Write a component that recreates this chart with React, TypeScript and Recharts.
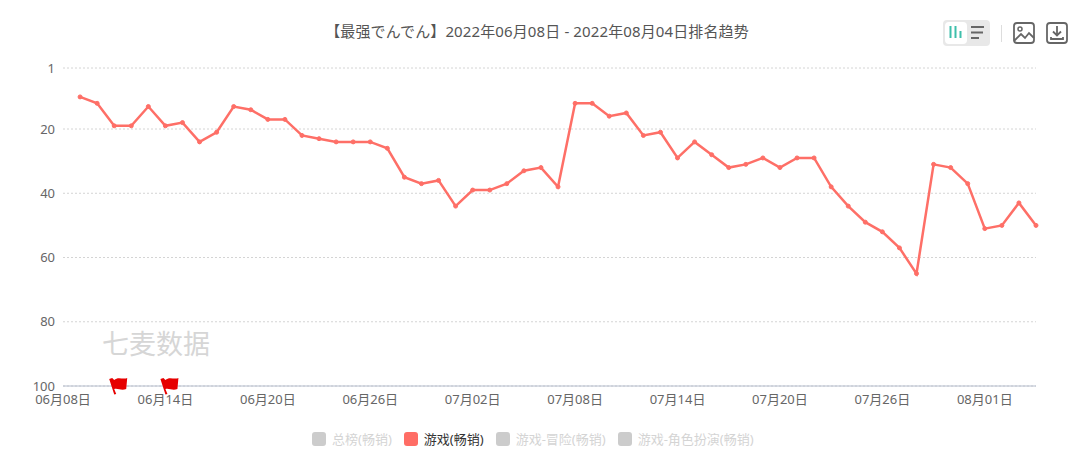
import React from "react";
import { CartesianGrid, Line, LineChart, ReferenceDot, XAxis, YAxis } from "recharts";

const FONT = '"Noto Sans", "Noto Sans CJK SC", sans-serif';
const LINE_COLOR = "#fe6f67";

const dates = [
  "06月08日", "06月09日", "06月10日", "06月11日", "06月12日", "06月13日", "06月14日", "06月15日",
  "06月16日", "06月17日", "06月18日", "06月19日", "06月20日", "06月21日", "06月22日", "06月23日",
  "06月24日", "06月25日", "06月26日", "06月27日", "06月28日", "06月29日", "06月30日", "07月01日",
  "07月02日", "07月03日", "07月04日", "07月05日", "07月06日", "07月07日", "07月08日", "07月09日",
  "07月10日", "07月11日", "07月12日", "07月13日", "07月14日", "07月15日", "07月16日", "07月17日",
  "07月18日", "07月19日", "07月20日", "07月21日", "07月22日", "07月23日", "07月24日", "07月25日",
  "07月26日", "07月27日", "07月28日", "07月29日", "07月30日", "07月31日", "08月01日", "08月02日",
  "08月03日", "08月04日",
];

const ranks = [
  null, 10, 12, 19, 19, 13, 19, 18, 24, 21, 13, 14, 17, 17, 22, 23, 24, 24, 24, 26, 35, 37, 36, 44,
  39, 39, 37, 33, 32, 38, 12, 12, 16, 15, 22, 21, 29, 24, 28, 32, 31, 29, 32, 29, 29, 38, 44, 49,
  52, 57, 65, 31, 32, 37, 51, 50, 43, 50,
];

const rankTicks = [1, 20, 40, 60, 80, 100];
const flagDates = ["06月11日", "06月14日"];
const legendItems = ["总榜(畅销)", "游戏(畅销)", "游戏-冒险(畅销)", "游戏-角色扮演(畅销)"];
const activeLegend = "游戏(畅销)";

const chartData = dates.map((date, i) => ({ date, rank: ranks[i] }));

function Flag({ cx, cy }: { cx?: number; cy?: number }) {
  return (
    <g transform={`translate(${cx}, ${cy})`}>
      <path d="M-5 -7 L0 8.5 L2 8 L0 3 C4 2 7 5 12 3 L13 -8 C9 -6 4 -10 0 -6 L-2 -8 Z" fill="#e60000" />
    </g>
  );
}

function Toolbar() {
  return (
    <svg width={140} height={40} style={{ position: "absolute", left: 935, top: 13 }}>
      <rect x={8} y={7} width={47} height={26} rx={4} fill="#e8e8e8" />
      <rect x={10} y={9} width={22} height={22} rx={4} fill="#fff" />
      <path d="M15.5 13 V25 M20.5 13 V25 M25.5 18 V25" stroke="#3ebfab" strokeWidth={2} />
      <path d="M36 14 H49 M36 19.5 H48 M36 25 H44" stroke="#666" strokeWidth={2} />
      <path d="M66.5 12 V29" stroke="#ddd" strokeWidth={1} />
      <rect x={79} y={10} width={20} height={20} rx={3} fill="none" stroke="#666" strokeWidth={1.8} />
      <circle cx={85} cy={16} r={2} fill="none" stroke="#666" strokeWidth={1.5} />
      <path d="M79 28 L86 21 L90 25 L94 20 L99 25" fill="none" stroke="#666" strokeWidth={1.8} />
      <rect x={112} y={10} width={20} height={20} rx={3} fill="none" stroke="#666" strokeWidth={1.8} />
      <path d="M122 13 V22 M118 18.5 L122 22.5 L126 18.5 M116 24 V26 H128 V24" fill="none" stroke="#666" strokeWidth={1.8} />
    </svg>
  );
}

function LegendRow() {
  return (
    <div style={{ position: "absolute", left: 312, top: 430, display: "flex", gap: 12, fontSize: 13, lineHeight: "18px" }}>
      {legendItems.map((name) => {
        const active = name === activeLegend;
        return (
          <div key={name} style={{ display: "flex", alignItems: "center", color: active ? "#333" : "#d4d4d4" }}>
            <span
              style={{
                width: 14,
                height: 14,
                borderRadius: 3,
                marginRight: 6,
                background: active ? "#ff6d65" : "#cccccc",
              }}
            />
            {name}
          </div>
        );
      })}
    </div>
  );
}

export default function App() {
  return (
    <div style={{ position: "absolute", left: 0, top: 0, width: 1080, height: 459, background: "#fff", fontFamily: FONT }}>
      <div style={{ position: "absolute", left: 0, width: 1074, top: 21, textAlign: "center", fontSize: 15, letterSpacing: 0.12, lineHeight: "20px", color: "#555" }}>
        【最强でんでん】2022年06月08日 - 2022年08月04日排名趋势
      </div>
      <Toolbar />
      <div style={{ position: "absolute", left: 102, top: 326, fontSize: 27, lineHeight: "36px", color: "#d6d6d6" }}>七麦数据</div>
      <LineChart
        width={1080}
        height={459}
        data={chartData}
        margin={{ top: 68, right: 44, bottom: 43, left: 0 }}
        style={{ position: "absolute", left: 0, top: 0 }}
      >
        <CartesianGrid vertical={false} stroke="#d4d4d4" strokeDasharray="2 2" />
        <XAxis
          dataKey="date"
          scale="point"
          padding={{ left: 0, right: 0 }}
          interval={5}
          height={30}
          tickLine={false}
          axisLine={{ stroke: "#b4bccc" }}
          tick={{ fontSize: 13, fill: "#666", fontFamily: FONT }}
          tickMargin={3}
        />
        <YAxis
          reversed
          width={63}
          domain={[1, 100]}
          ticks={rankTicks}
          interval={0}
          tickLine={false}
          axisLine={false}
          tick={{ fontSize: 13, fill: "#666", fontFamily: FONT }}
          tickMargin={2}
        />
        <Line
          dataKey="rank"
          stroke={LINE_COLOR}
          strokeWidth={2.5}
          dot={{ r: 2, fill: LINE_COLOR, stroke: LINE_COLOR, strokeWidth: 1 }}
          isAnimationActive={false}
        />
        {flagDates.map((d) => (
          <ReferenceDot key={d} x={d} y={100} r={0} shape={<Flag />} ifOverflow="visible" />
        ))}
      </LineChart>
      <LegendRow />
    </div>
  );
}
